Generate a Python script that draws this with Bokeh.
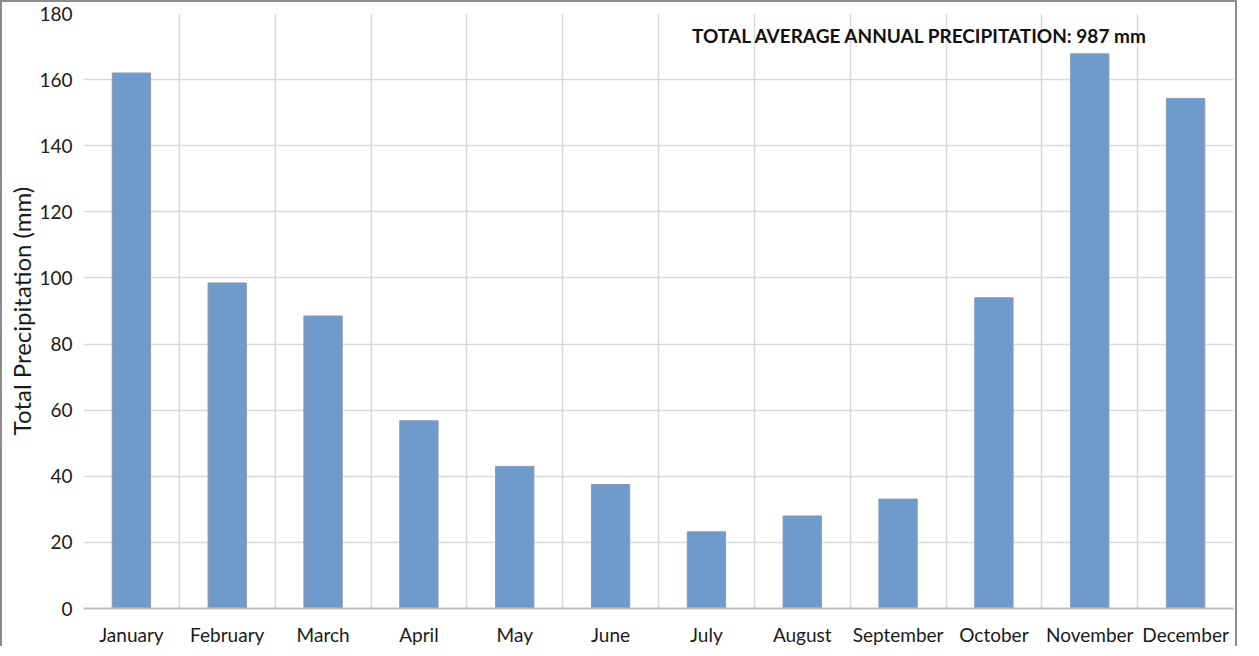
import numpy as np
from bokeh.plotting import figure
from bokeh.models import Range1d, FixedTicker, Label
from bokeh.embed import file_html
from bokeh.resources import INLINE

months = ["January", "February", "March", "April", "May", "June", "July",
          "August", "September", "October", "November", "December"]
precip = [162.0, 98.5, 88.5, 56.8, 43.0, 37.5, 23.2, 28.0, 33.1, 94.0, 167.8, 154.3]
y_ticks = [0, 20, 40, 60, 80, 100, 120, 140, 160, 180]
annotation = "TOTAL AVERAGE ANNUAL PRECIPITATION: 987 mm"

FONT = "Lato"
n = len(months)
xc = [i + 0.5 for i in range(n)]

p = figure(width=1237, height=646, output_backend="svg", toolbar_location=None,
           x_range=Range1d(0, n), y_range=Range1d(0, 180),
           min_border_left=81, min_border_right=6, min_border_top=11, min_border_bottom=37)
p.styles = {"border-left": "2px solid #8c8c8c", "border-top": "2px solid #8c8c8c",
            "border-right": "2px solid #8c8c8c", "margin-bottom": "-8px"}
p.outline_line_color = None
p.background_fill_color = "white"

p.vbar(x=xc, top=precip, width=0.4, fill_color="#6f9acc", line_color="#8a9bb0", line_width=1)

# axes
p.xaxis.ticker = FixedTicker(ticks=xc)
p.xaxis.major_label_overrides = {x: m for x, m in zip(xc, months)}
p.xaxis.major_tick_line_color = None
p.xaxis.minor_tick_line_color = None
p.xaxis.axis_line_color = "#bfbfbf"
p.xaxis.axis_line_width = 2
p.xaxis.major_label_text_font = FONT
p.xaxis.major_label_text_font_size = "19px"
p.xaxis.major_label_text_color = "#1a1a1a"
p.xaxis.major_label_standoff = 8

p.yaxis.ticker = FixedTicker(ticks=y_ticks)
p.yaxis.major_tick_line_color = None
p.yaxis.minor_tick_line_color = None
p.yaxis.axis_line_color = None
p.yaxis.major_label_text_font = FONT
p.yaxis.major_label_text_font_size = "19px"
p.yaxis.major_label_text_color = "#1a1a1a"
p.yaxis.major_label_standoff = 5
p.yaxis.axis_label = "Total Precipitation (mm)"
p.yaxis.axis_label_text_font = FONT
p.yaxis.axis_label_text_font_style = "normal"
p.yaxis.axis_label_text_font_size = "24px"
p.yaxis.axis_label_text_color = "#1a1a1a"
p.yaxis.axis_label_standoff = 0

# grids
p.xgrid.ticker = FixedTicker(ticks=list(range(n + 1)))
p.xgrid.grid_line_color = "#d9d9d9"
p.xgrid.grid_line_width = 1.5
p.ygrid.ticker = FixedTicker(ticks=y_ticks)
p.ygrid.grid_line_color = "#d9d9d9"
p.ygrid.grid_line_width = 1.5

p.add_layout(Label(x=6.35, y=173.2, text=annotation, text_font=FONT,
                   text_font_style="bold", text_font_size="19px",
                   text_baseline="middle", text_color="#111111"))

open("out.html", "w").write(file_html(p, INLINE))
